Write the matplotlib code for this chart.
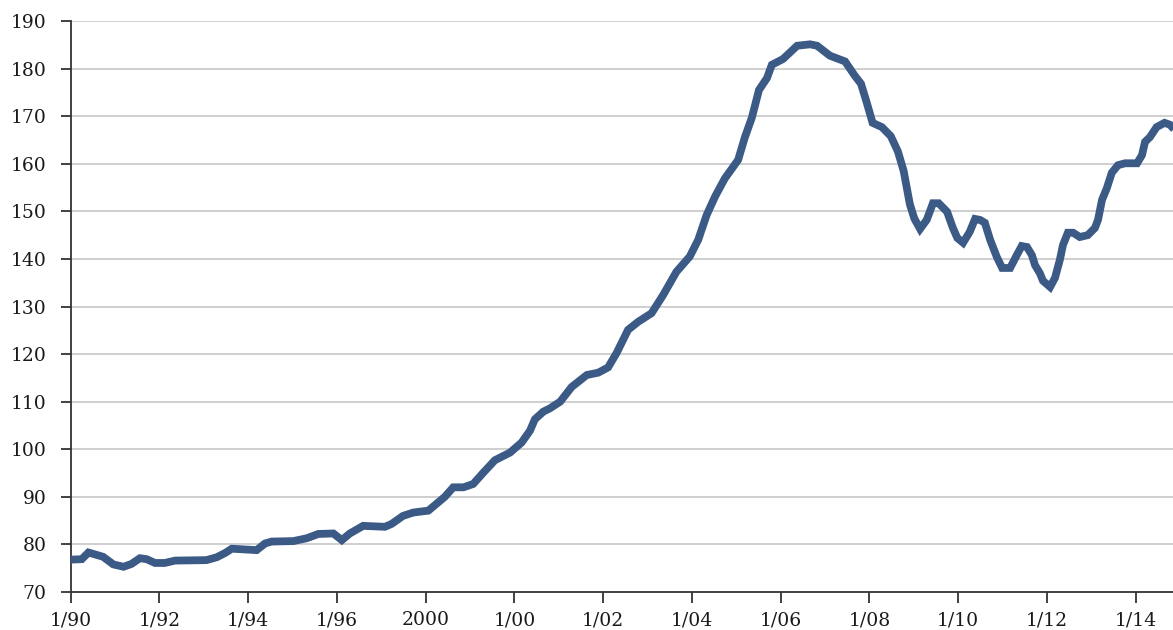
import matplotlib
matplotlib.use("Agg")
import matplotlib.pyplot as plt

# Dates as decimal years, index values
years = [1990.00, 1990.25, 1990.40, 1990.73, 1990.96, 1991.19, 1991.37, 1991.56, 1991.71, 1991.90,
         1992.12, 1992.35, 1993.06, 1993.29, 1993.48, 1993.63, 1994.19, 1994.38, 1994.53, 1995.02,
         1995.32, 1995.58, 1995.92, 1996.11, 1996.29, 1996.59, 1997.08, 1997.23, 1997.49, 1997.72,
         1998.06, 1998.25, 1998.43, 1998.62, 1998.85, 1999.07, 1999.30, 1999.56, 1999.90, 2000.16,
         2000.35, 2000.46, 2000.65, 2000.80, 2001.03, 2001.29, 2001.63, 2001.89, 2002.11, 2002.30,
         2002.56, 2002.79, 2003.09, 2003.35, 2003.65, 2003.95, 2004.14, 2004.33, 2004.52, 2004.74,
         2005.04, 2005.19, 2005.35, 2005.51, 2005.69, 2005.80, 2006.05, 2006.37, 2006.66, 2006.82,
         2007.11, 2007.45, 2007.67, 2007.81, 2007.94, 2008.07, 2008.28, 2008.48, 2008.64, 2008.77,
         2008.91, 2009.01, 2009.14, 2009.29, 2009.43, 2009.56, 2009.75, 2009.88, 2009.98, 2010.11,
         2010.26, 2010.38, 2010.49, 2010.60, 2010.72, 2010.87, 2010.99, 2011.17, 2011.32, 2011.43,
         2011.55, 2011.66, 2011.73, 2011.84, 2011.91, 2012.07, 2012.18, 2012.29, 2012.36, 2012.47,
         2012.59, 2012.74, 2012.92, 2013.08, 2013.15, 2013.24, 2013.35, 2013.46, 2013.60, 2013.76,
         2014.03, 2014.14, 2014.21, 2014.32, 2014.47, 2014.65, 2014.77, 2014.90]
index = [76.8, 76.9, 78.3, 77.4, 75.8, 75.3, 75.9, 77.1, 76.9, 76.1,
         76.1, 76.6, 76.7, 77.3, 78.2, 79.1, 78.8, 80.2, 80.6, 80.7,
         81.3, 82.2, 82.3, 80.9, 82.3, 83.9, 83.7, 84.3, 86.0, 86.7,
         87.1, 88.6, 90.0, 92.0, 92.0, 92.7, 95.1, 97.7, 99.3, 101.4,
         103.9, 106.3, 107.9, 108.6, 110.0, 113.1, 115.6, 116.1, 117.2, 120.2,
         125.1, 126.8, 128.6, 132.4, 137.3, 140.5, 144.0, 149.2, 153.1, 156.9,
         160.8, 165.5, 169.7, 175.5, 178.0, 180.8, 182.0, 184.8, 185.1, 184.8,
         182.7, 181.5, 178.5, 176.8, 172.8, 168.6, 167.7, 165.8, 162.6, 158.5,
         151.5, 148.5, 146.3, 148.2, 151.7, 151.7, 149.9, 146.5, 144.4, 143.4,
         145.7, 148.4, 148.2, 147.6, 144.0, 140.4, 138.1, 138.1, 140.8, 142.7,
         142.5, 140.8, 138.7, 137.0, 135.4, 134.1, 136.0, 139.8, 142.9, 145.5,
         145.5, 144.6, 145.0, 146.5, 148.2, 152.4, 154.9, 158.1, 159.7, 160.1,
         160.1, 161.8, 164.6, 165.6, 167.7, 168.6, 168.2, 166.9]

tick_years = [1990, 1992, 1994, 1996, 1998, 2000, 2002, 2004, 2006, 2008, 2010, 2012, 2014]
tick_labels = ['1/90', '1/92', '1/94', '1/96', '2000', '1/00', '1/02', '1/04', '1/06',
               '1/08', '1/10', '1/12', '1/14']
y_ticks = list(range(70, 191, 10))

plt.rcParams['font.family'] = ['DejaVu Serif']

fig = plt.figure(figsize=(11.73, 6.30), dpi=100)
ax = fig.add_axes([70.7 / 1173, 1 - 592 / 630, 1 - 70.7 / 1173, (592 - 21) / 630])

ax.plot(years, index, color='#3c5a86', lw=5.6, solid_joinstyle='miter', solid_capstyle='butt', zorder=3)

ax.set_xlim(1990, 2014.84)
ax.set_ylim(70, 190)
ax.set_xticks(tick_years)
ax.set_xticklabels(tick_labels)
ax.set_yticks(y_ticks)
ax.set_yticklabels([str(v) for v in y_ticks])

for v in y_ticks[1:]:
    ax.axhline(v, color='#cccccc', lw=1.3, zorder=1)

for s in ['top', 'right']:
    ax.spines[s].set_visible(False)
for s in ['left', 'bottom']:
    ax.spines[s].set_color('#333333')
    ax.spines[s].set_linewidth(1.3)

ax.tick_params(axis='y', length=7.5, width=1.3, color='#333333', pad=10, labelsize=13.5, labelcolor='#1a1a1a')
ax.tick_params(axis='x', length=8, width=1.3, color='#333333', pad=6, labelsize=13.5, labelcolor='#1a1a1a')

fig.savefig('out.png', dpi=100)
